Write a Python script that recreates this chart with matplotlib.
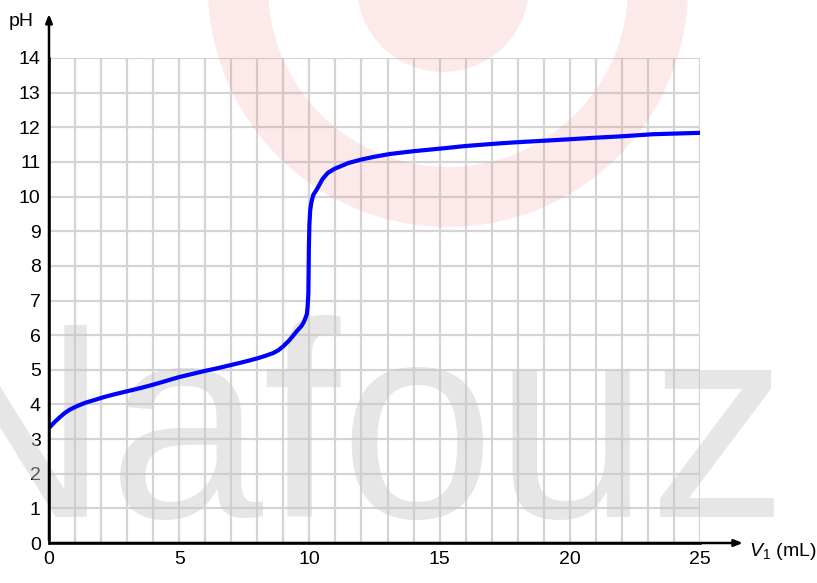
import matplotlib.pyplot as plt
from matplotlib.patches import Wedge, Circle

# titration curve
volume_ml = [0, 0.2, 0.4, 0.6, 0.8, 1.1, 1.4, 1.8, 2.1, 2.5, 3.0, 3.5, 4.0, 4.5, 5.0,
             5.5, 6.0, 6.5, 7.0, 7.5, 8.0, 8.3, 8.6, 8.8, 9.0, 9.2, 9.35, 9.5,
             9.62, 9.7, 9.78, 9.85, 9.9, 9.93, 9.96, 9.98, 10.0, 10.03,
             10.08, 10.15, 10.28, 10.5, 10.7, 10.96, 11.5, 12.0, 12.5, 13.1, 14.0,
             15.1, 16.0, 17.2, 18.0, 19.9, 21.0, 22.0, 23.2, 25]
ph = [3.32, 3.48, 3.62, 3.75, 3.85, 3.96, 4.05, 4.14, 4.21, 4.29, 4.38, 4.47, 4.57, 4.68, 4.79,
      4.88, 4.97, 5.05, 5.14, 5.23, 5.33, 5.4, 5.48, 5.56, 5.68, 5.83, 5.96, 6.1,
      6.2, 6.27, 6.37, 6.5, 6.6, 6.8, 7.2, 8.5, 9.2, 9.6,
      9.85, 10.05, 10.2, 10.5, 10.68, 10.8, 10.97, 11.07, 11.15, 11.23, 11.31,
      11.39, 11.46, 11.53, 11.57, 11.65, 11.7, 11.74, 11.8, 11.84]

x_ticks = [0, 5, 10, 15, 20, 25]
y_ticks = list(range(0, 15))

plt.rcParams['font.family'] = ['Liberation Sans', 'DejaVu Sans']
plt.rcParams['mathtext.fontset'] = 'custom'
plt.rcParams['mathtext.rm'] = 'Liberation Sans'
plt.rcParams['mathtext.it'] = 'Liberation Sans:italic'

fig = plt.figure(figsize=(8.17, 5.83), dpi=100)
ax = fig.add_axes([49/817, 40/583, 651/817, 485/583])

ax.set_xlim(0, 25)
ax.set_ylim(0, 14)
ax.set_axisbelow(True)
ax.set_xticks(range(0, 26), minor=True)
ax.set_xticks(x_ticks)
ax.set_yticks(y_ticks)
ax.grid(True, which='both', color='#d4d4d4', lw=1.6)
ax.tick_params(which='both', length=0, labelsize=14, pad=6)

for s in ['top', 'right']:
    ax.spines[s].set_visible(False)
for s in ['left', 'bottom']:
    ax.spines[s].set_linewidth(1.8)
    ax.spines[s].set_zorder(3)

#### watermark
ax.add_patch(Wedge((4.48, 5.96), 2.40, 0, 360, width=0.60, color='#f08080',
                   alpha=0.17, lw=0, transform=fig.dpi_scale_trans, clip_on=False, zorder=1))
ax.add_patch(Circle((4.43, 5.97), 0.86, color='#f08080', alpha=0.17, lw=0,
                    transform=fig.dpi_scale_trans, clip_on=False, zorder=1))
ax.text(7.88, 0.66, 'Nafouz', transform=fig.dpi_scale_trans, ha='right', va='baseline',
        fontsize=200, color='#c8c8c8', alpha=0.45, zorder=1, clip_on=False)

#### curve
ax.plot(volume_ml, ph, color='#0000ff', lw=3, zorder=2, solid_joinstyle='round')

#### axis arrows
arr = dict(arrowstyle='-|>,head_length=0.5,head_width=0.2', color='black', lw=1.8)
ax.annotate('', xy=(0, 15.35), xytext=(0, 0), arrowprops=arr, annotation_clip=False)
ax.annotate('', xy=(26.75, 0), xytext=(0, 0), arrowprops=arr, annotation_clip=False)

ax.text(-1.05, 15.05, 'pH', fontsize=14, ha='center', va='center')
ax.text(26.9, -0.25, r'$\mathit{V}_1$ (mL)', fontsize=14, ha='left', va='center')

fig.savefig('out.png', dpi=100)
